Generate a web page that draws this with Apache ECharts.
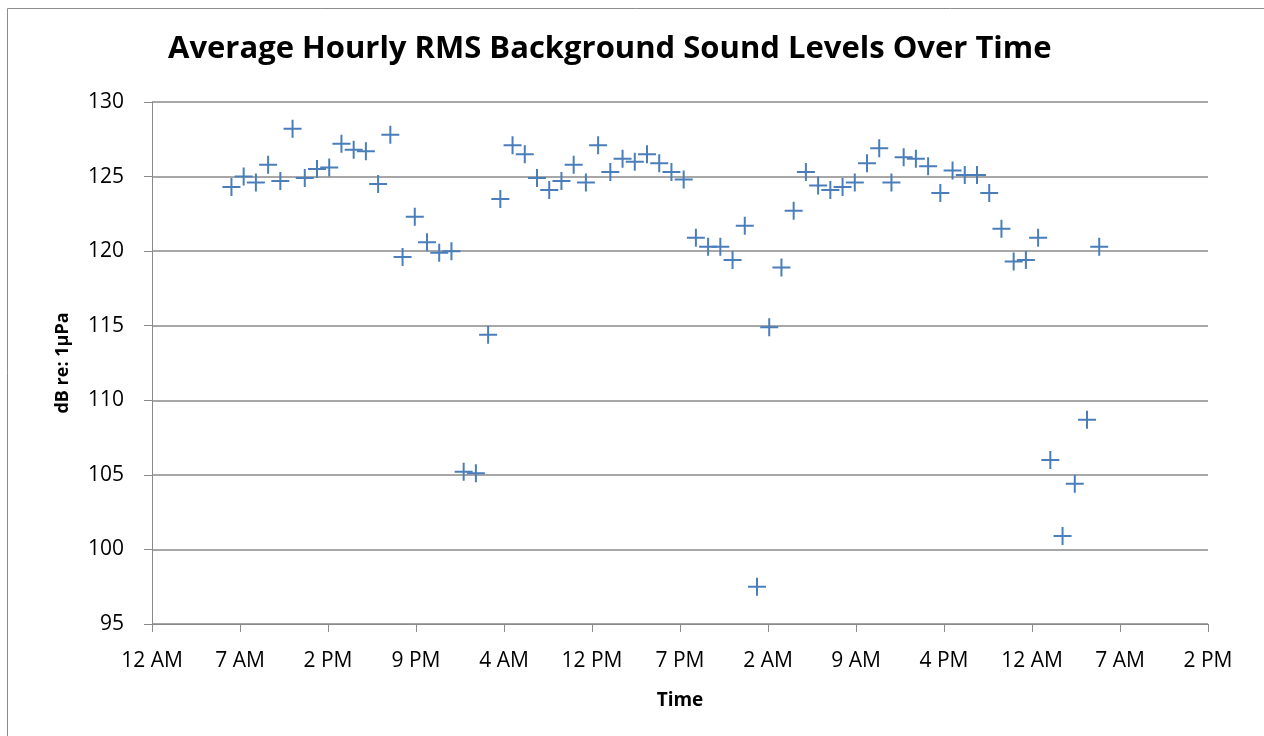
<!DOCTYPE html>
<html>
<head>
<meta charset="utf-8">
<script src="https://cdn.jsdelivr.net/npm/echarts@6/dist/echarts.min.js"></script>
<style>
  html, body { margin: 0; padding: 0; background: #fff; }
  #chart { width: 1264px; height: 736px; }
</style>
</head>
<body>
<div id="chart"></div>
<script>
// hours since midnight of day 1
const hours = [
  6.5, 7.5, 8.5, 9.5, 10.5, 11.5, 12.5, 13.5, 14.5, 15.5, 16.5, 17.5,
  18.5, 19.5, 20.5, 21.5, 22.5, 23.5, 24.5, 25.5, 26.5, 27.5, 28.5, 29.5,
  30.5, 31.5, 32.5, 33.5, 34.5, 35.5, 36.5, 37.5, 38.5, 39.5, 40.5, 41.5,
  42.5, 43.5, 44.5, 45.5, 46.5, 47.5, 48.5, 49.5, 50.5, 51.5, 52.5, 53.5,
  54.5, 55.5, 56.5, 57.5, 58.5, 59.5, 60.5, 61.5, 62.5, 63.5, 64.5, 65.5,
  66.5, 67.5, 68.5, 69.5, 70.5, 71.5, 72.5, 73.5, 74.5, 75.5, 76.5, 77.5
];
// dB re: 1uPa
const levels = [
  124.3, 125.0, 124.6, 125.8, 124.7, 128.2, 124.9, 125.5, 125.6, 127.2, 126.8, 126.7,
  124.5, 127.8, 119.6, 122.3, 120.6, 119.9, 120.0, 105.2, 105.1, 114.4, 123.5, 127.1,
  126.5, 124.9, 124.1, 124.7, 125.8, 124.6, 127.1, 125.3, 126.2, 126.0, 126.5, 125.9,
  125.3, 124.8, 120.9, 120.3, 120.3, 119.4, 121.7, 97.5, 114.9, 118.9, 122.7, 125.3,
  124.4, 124.1, 124.3, 124.6, 125.9, 126.9, 124.6, 126.3, 126.2, 125.7, 123.9, 125.4,
  125.1, 125.1, 123.9, 121.5, 119.3, 119.4, 120.9, 106.0, 100.9, 104.4, 108.7, 120.3
];
const xTickLabels = ['12 AM', '7 AM', '2 PM', '9 PM', '4 AM', '12 PM', '7 PM',
  '2 AM', '9 AM', '4 PM', '12 AM', '7 AM', '2 PM'];
const xStep = 7.2;

const gray = '#8a8a8a';
const blue = '#4a7ebb';
const font = 'Open Sans';

var myChart = echarts.init(document.getElementById('chart'));
myChart.setOption({
  animation: false,
  title: {
    text: 'Average Hourly RMS Background Sound Levels Over Time',
    left: 163,
    top: 29,
    textStyle: { fontFamily: font, fontSize: 31, fontWeight: 'bold', color: '#000' }
  },
  graphic: [{
    type: 'rect',
    shape: { x: 7.5, y: 8.5, width: 1300, height: 800 },
    style: { fill: 'none', stroke: '#8c8c8c', lineWidth: 1 },
    silent: true
  }],
  grid: { left: 152, top: 102, right: 56, bottom: 112 },
  xAxis: {
    type: 'value',
    min: 0,
    max: xStep * 12,
    interval: xStep,
    name: 'Time',
    nameLocation: 'middle',
    nameGap: 67,
    nameTextStyle: { fontFamily: font, fontSize: 19, fontWeight: 'bold', color: '#000' },
    axisLine: { show: true, lineStyle: { color: gray, width: 1 } },
    axisTick: { show: true, length: 8, lineStyle: { color: gray } },
    splitLine: { show: false },
    axisLabel: {
      margin: 27,
      fontFamily: font,
      fontSize: 21,
      color: '#000',
      formatter: function (value) {
        return xTickLabels[Math.round(value / xStep)];
      }
    }
  },
  yAxis: {
    type: 'value',
    min: 95,
    max: 130,
    interval: 5,
    name: 'dB re: 1μPa',
    nameLocation: 'middle',
    nameRotate: 90,
    nameGap: 80,
    nameTextStyle: { fontFamily: font, fontSize: 18, fontWeight: 'bold', color: '#000' },
    axisLine: { show: true, lineStyle: { color: gray, width: 1 } },
    axisTick: { show: true, length: 8, lineStyle: { color: gray } },
    splitLine: { show: true, lineStyle: { color: gray, width: 1.5 } },
    axisLabel: { margin: 28, fontFamily: font, fontSize: 21, color: '#000' }
  },
  series: [{
    type: 'scatter',
    symbol: 'path://M8,0h2v8h8v2h-8v8h-2v-8h-8v-2h8z',
    symbolSize: 18,
    itemStyle: { color: blue, opacity: 1 },
    data: hours.map(function (h, i) { return [h, levels[i]]; })
  }]
});
window.onresize = function () {
  myChart.resize();
};
</script>
</body>
</html>
